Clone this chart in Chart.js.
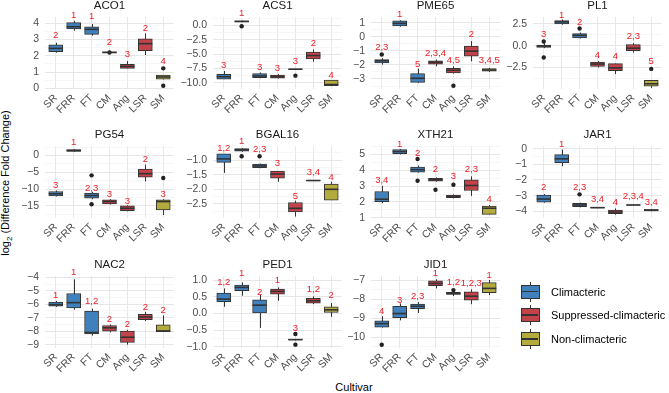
<!DOCTYPE html>
<html>
<head>
<meta charset="utf-8">
<title>Cultivar boxplots</title>
<script src="https://cdn.jsdelivr.net/npm/chart.js@4.4.1/dist/chart.umd.min.js"></script>
<style>
  html, body { margin: 0; padding: 0; background: #ffffff; }
  #figure { position: relative; width: 669px; height: 393px; overflow: hidden;
            font-family: "Liberation Sans", Arial, Helvetica, sans-serif; }
  #figure canvas { position: absolute; }
  .axis-title { position: absolute; color: #000; font-size: 11px; line-height: 14px;
                white-space: nowrap; text-align: center; }
  #ytitle { left: -144px; top: 175px; width: 300px; transform: rotate(-90deg); }
  #ytitle span { font-size: 8px; position: relative; top: 3px; }
  #xtitle { left: 304px; top: 380px; width: 100px; }
  .key { position: absolute; width: 19px; height: 24px; }
  .key .whisker { position: absolute; left: 9px; top: 2px; width: 1px; height: 20px; background: #333; }
  .key .box { position: absolute; left: 0; top: 5px; width: 17px; height: 12px;
              border: 1px solid #333; }
  .key .mid { position: absolute; left: 0; top: 5px; width: 17px; height: 1.5px; background: #333; }
  .key-label { position: absolute; font-size: 11px; line-height: 14px; color: #000; white-space: nowrap; }
</style>
</head>
<body>
<div id="figure">
  <div class="axis-title" id="ytitle">log<span>2</span> (Difference Fold Change)</div>
  <div class="axis-title" id="xtitle">Cultivar</div>
</div>
<script>
const cultivars = ["SR", "FRR", "FT", "CM", "Ang", "LSR", "SM"];
const cultivarGroup = [0, 0, 0, 1, 1, 1, 2];
const groupNames = ["Climacteric", "Suppressed-climacteric", "Non-climacteric"];
const groupColors = ["#3f80bd", "#c3434b", "#b3ab3e"];

// each box: [lower whisker, Q1, median, Q3, upper whisker]; outliers: [cultivar index, value]
const ACO1_box = [[2.19, 2.26, 2.46, 2.67, 2.81], [3.55, 3.65, 3.79, 4.04, 4.16], [3.24, 3.32, 3.63, 3.79, 3.96],
  [2.16, 2.18, 2.21, 2.25, 2.27], [1.23, 1.23, 1.35, 1.48, 1.68], [2.05, 2.32, 2.75, 3.04, 3.38], [0.55, 0.56, 0.70, 0.82, 0.82]];
const ACO1_out = [[3, 2.21], [6, 1.23], [6, 0.16]];
const ACO1_sig = ["2", "1", "1", "2", "3", "2", "4"];
const ACO1_sigY = [3.28, 4.51, 4.41, 2.81, 2.09, 3.69, 1.64];

const ACS1_box = [[-9.35, -9.35, -8.93, -8.51, -7.92], [0.6, 0.62, 0.72, 0.85, 0.89], [-9.2, -9.11, -8.81, -8.39, -8.2],
  [-9.25, -9.17, -8.93, -8.63, -8.45], [-7.7, -7.66, -7.62, -7.58, -7.55], [-6.31, -5.83, -5.24, -4.64, -4.17], [-10.48, -10.48, -10.3, -9.52, -9.52]];
const ACS1_out = [[1, -0.12], [4, -8.75]];
const ACS1_sig = ["3", "1", "3", "3", "3", "2", "4"];
const ACS1_sigY = [-7.02, 2.08, -7.32, -7.44, -6.25, -3.15, -8.63];

const PME65_box = [[-1.98, -1.86, -1.71, -1.62, -1.52], [0.71, 0.76, 0.95, 1.12, 1.17], [-3.29, -3.24, -2.95, -2.62, -2.26],
  [-2.1, -1.95, -1.81, -1.71, -1.62], [-2.62, -2.57, -2.38, -2.24, -2.1], [-1.74, -1.38, -1.02, -0.67, -0.31], [-2.5, -2.45, -2.36, -2.26, -2.21]];
const PME65_out = [[0, -1.26], [4, -3.48]];
const PME65_sig = ["2,3", "1", "5", "2,3,4", "4,5", "2", "3,4,5"];
const PME65_sigY = [-0.74, 1.6, -1.98, -1.21, -1.69, 0.17, -1.69];

const PL1_box = [[-0.28, -0.2, -0.04, 0.08, 0.28], [2.42, 2.5, 2.74, 2.9, 3.02], [0.83, 0.91, 1.19, 1.39, 1.51],
  [-2.5, -2.38, -2.1, -1.87, -1.75], [-3.25, -2.86, -2.54, -2.06, -2.06], [-0.79, -0.56, -0.28, 0.12, 0.32], [-4.84, -4.64, -4.37, -3.97, -3.97]];
const PL1_out = [[0, 0.48], [0, -1.35], [2, 1.98], [6, -2.66]];
const PL1_sig = ["3", "1", "2", "4", "4", "2,3", "5"];
const PL1_sigY = [1.31, 3.49, 2.7, -1.07, -1.27, 1.11, -1.79];

const PG54_box = [[-12.2, -12.0, -11.4, -10.7, -10.4], [1.1, 1.2, 1.5, 1.8, 1.9], [-13.0, -12.7, -11.9, -11.2, -10.8],
  [-14.6, -14.4, -13.7, -13.2, -13.0], [-16.6, -16.4, -15.7, -15.0, -14.8], [-7.7, -6.4, -5.4, -4.0, -2.7], [-17.7, -16.2, -13.7, -13.2, -13.0]];
const PG54_out = [[2, -5.9], [2, -14.5], [6, -6.7]];
const PG54_sig = ["3", "1", "2,3", "3", "3", "2", "3"];
const PG54_sigY = [-8.9, 3.8, -9.7, -11.7, -13.5, -1.2, -11.7];

const BGAL16_box = [[-1.44, -1.08, -0.96, -0.79, -0.79], [-0.72, -0.70, -0.65, -0.61, -0.60], [-1.28, -1.26, -1.2, -1.14, -1.12],
  [-1.74, -1.62, -1.48, -1.38, -1.38], [-2.93, -2.77, -2.65, -2.45, -2.39], [-1.71, -1.705, -1.7, -1.695, -1.69], [-2.37, -2.37, -2.0, -1.82, -1.74]];
const BGAL16_out = [[1, -0.87], [2, -0.87]];
const BGAL16_sig = ["1,2", "1", "2,3", "3", "5", "3,4", "4"];
const BGAL16_sigY = [-0.61, -0.37, -0.64, -1.12, -2.25, -1.42, -1.58];

const XTH21_box = [[1.91, 2.02, 2.17, 2.66, 3.02], [5.0, 5.06, 5.19, 5.32, 5.35], [3.85, 3.89, 4.04, 4.21, 4.3],
  [3.28, 3.32, 3.4, 3.49, 3.55], [2.22, 2.26, 2.34, 2.43, 2.47], [2.38, 2.72, 3.04, 3.4, 3.62], [1.21, 1.21, 1.6, 1.74, 1.8]];
const XTH21_out = [[2, 4.72], [2, 3.34], [3, 2.77], [4, 3.09]];
const XTH21_sig = ["3,4", "1", "2", "2", "3", "2,3", "4"];
const XTH21_sigY = [3.34, 5.64, 5.06, 4.04, 3.62, 4.04, 2.13];

const JAR1_box = [[-3.45, -3.42, -3.22, -2.97, -2.9], [-1.12, -0.9, -0.65, -0.38, -0.06], [-3.75, -3.7, -3.6, -3.5, -3.45],
  [-3.8, -3.79, -3.77, -3.75, -3.74], [-4.22, -4.15, -4.05, -3.92, -3.82], [-3.62, -3.61, -3.6, -3.59, -3.58], [-4.0, -3.98, -3.93, -3.87, -3.85]];
const JAR1_out = [[2, -2.92]];
const JAR1_sig = ["2", "1", "2,3", "3,4", "4", "2,3,4", "3,4"];
const JAR1_sigY = [-2.48, 0.25, -2.48, -3.27, -3.43, -3.06, -3.4];

const NAC2_box = [[-6.2, -6.15, -6.03, -5.83, -5.75], [-6.4, -6.28, -5.88, -5.2, -4.15], [-8.33, -8.2, -8.1, -6.5, -6.33],
  [-8.08, -8.0, -7.75, -7.58, -7.5], [-9.0, -8.83, -8.45, -8.0, -7.9], [-7.25, -7.15, -6.95, -6.75, -6.58], [-8.03, -8.03, -7.98, -7.53, -6.83]];
const NAC2_out = [];
const NAC2_sig = ["1", "1", "1,2", "2", "2", "2", "2"];
const NAC2_sigY = [-5.33, -3.65, -5.75, -7.13, -7.53, -6.2, -6.45];

const PED1_box = [[0.2, 0.35, 0.43, 0.61, 0.75], [0.53, 0.68, 0.78, 0.85, 0.93], [-0.43, 0.0, 0.25, 0.41, 0.55],
  [0.38, 0.58, 0.66, 0.73, 0.78], [-0.8, -0.79, -0.78, -0.77, -0.76], [0.28, 0.31, 0.38, 0.45, 0.51], [-0.1, 0.03, 0.11, 0.2, 0.31]];
const PED1_out = [[4, -0.61], [4, -0.93]];
const PED1_sig = ["1,2", "1", "2", "1", "3", "1,2", "2"];
const PED1_sigY = [0.93, 1.2, 0.63, 1.0, -0.43, 0.71, 0.53];

const JID1_box = [[-9.5, -9.47, -9.29, -9.15, -8.9], [-9.12, -8.98, -8.76, -8.38, -8.23], [-8.73, -8.5, -8.38, -8.27, -8.15],
  [-7.44, -7.3, -7.18, -7.05, -6.96], [-7.84, -7.76, -7.71, -7.65, -7.62], [-8.27, -8.06, -7.85, -7.62, -7.49], [-7.79, -7.67, -7.44, -7.14, -7.0]];
const JID1_out = [[0, -10.4], [4, -7.53]];
const JID1_sig = ["4", "3", "2,3", "1", "1,2", "1,2,3", "1"];
const JID1_sigY = [-8.64, -8.06, -7.88, -6.65, -7.14, -7.18, -6.74];

// y axis per panel: limits, major break step, decimals
const geneNames = ["ACO1", "ACS1", "PME65", "PL1", "PG54", "BGAL16", "XTH21", "JAR1", "NAC2", "PED1", "JID1"];
const yMin = [-0.04, -11.08, -3.71, -4.97, -18.6, -2.98, 0.98, -4.43, -9.25, -1.03, -10.57];
const yMax = [4.39, 1.5, 1.4, 3.3, 2.85, -0.52, 5.54, 0.17, -3.9, 1.12, -6.79];
const yBreak = [1, 2.5, 1, 2.5, 5, 0.5, 1, 1, 1, 0.5, 1];
const yDigits = [0, 1, 0, 1, 0, 1, 0, 0, 0, 1, 0];

const panels = [
  [ACO1_box, ACO1_out, ACO1_sig, ACO1_sigY], [ACS1_box, ACS1_out, ACS1_sig, ACS1_sigY],
  [PME65_box, PME65_out, PME65_sig, PME65_sigY], [PL1_box, PL1_out, PL1_sig, PL1_sigY],
  [PG54_box, PG54_out, PG54_sig, PG54_sigY], [BGAL16_box, BGAL16_out, BGAL16_sig, BGAL16_sigY],
  [XTH21_box, XTH21_out, XTH21_sig, XTH21_sigY], [JAR1_box, JAR1_out, JAR1_sig, JAR1_sigY],
  [NAC2_box, NAC2_out, NAC2_sig, NAC2_sigY], [PED1_box, PED1_out, PED1_sig, PED1_sigY],
  [JID1_box, JID1_out, JID1_sig, JID1_sigY]
];

// layout of the facet grid
const colLeft = [45, 213, 371, 533];
const rowTop = [17, 146, 276];
const PANEL_W = 129, PANEL_H = 72;
const AX_W = 42, TITLE_H = 22, XAX_H = 34, PAD_R = 4;
const FONT = '"Liberation Sans", Arial, Helvetica, sans-serif';

Chart.defaults.font.family = FONT;

function isMajor(v, step) {
  return Math.abs(v / step - Math.round(v / step)) < 1e-6;
}

function fmt(v, digits) {
  const s = Math.abs(v).toFixed(digits);
  return (v < -1e-9 ? "\u2212" : "") + s;
}

// whiskers behind the boxes, medians and letters on top
const boxExtras = {
  id: "boxExtras",
  beforeDatasetsDraw(chart, args, opts) {
    const { ctx, scales: { x, y } } = chart;
    ctx.save();
    ctx.strokeStyle = "#333333";
    ctx.lineWidth = 1;
    opts.stats.forEach((s, i) => {
      const px = Math.round(x.getPixelForValue(i)) + 0.5;
      ctx.beginPath();
      ctx.moveTo(px, y.getPixelForValue(s[0]));
      ctx.lineTo(px, y.getPixelForValue(s[4]));
      ctx.stroke();
    });
    ctx.restore();
  },
  afterDatasetsDraw(chart, args, opts) {
    const { ctx, scales: { x, y } } = chart;
    ctx.save();
    ctx.strokeStyle = "#333333";
    ctx.lineWidth = 1.6;
    opts.stats.forEach((s, i) => {
      const px = x.getPixelForValue(i);
      const py = y.getPixelForValue(s[2]);
      ctx.beginPath();
      ctx.moveTo(px - opts.half, py);
      ctx.lineTo(px + opts.half, py);
      ctx.stroke();
    });
    ctx.fillStyle = "#ea2028";
    ctx.font = "9.5px " + FONT;
    ctx.textAlign = "center";
    ctx.textBaseline = "middle";
    opts.sig.forEach((t, i) => {
      ctx.fillText(t, x.getPixelForValue(i), y.getPixelForValue(opts.sigY[i]));
    });
    ctx.restore();
  }
};

const figure = document.getElementById("figure");

panels.forEach(([stats, outliers, sig, sigY], k) => {
  const col = k % 4, row = Math.floor(k / 4);
  const canvas = document.createElement("canvas");
  const w = AX_W + PANEL_W + PAD_R;
  const h = TITLE_H + PANEL_H + XAX_H;
  canvas.width = w;
  canvas.height = h;
  canvas.style.width = w + "px";
  canvas.style.height = h + "px";
  canvas.style.left = (colLeft[col] - AX_W) + "px";
  canvas.style.top = (rowTop[row] - TITLE_H) + "px";
  figure.appendChild(canvas);

  const lo = yMin[k], hi = yMax[k], major = yBreak[k], minor = yBreak[k] / 2;

  new Chart(canvas, {
    type: "bar",
    data: {
      datasets: [
        {
          type: "scatter",
          label: "outliers",
          order: 0,
          data: outliers.map(([i, v]) => ({ x: i, y: v })),
          pointRadius: 2.2,
          pointBackgroundColor: "#222222",
          pointBorderWidth: 0,
          clip: false
        },
        {
          type: "bar",
          label: "boxes",
          order: 1,
          data: stats.map((s, i) => ({ x: i, y: [s[1], s[3]] })),
          backgroundColor: cultivarGroup.map(g => groupColors[g]),
          borderColor: "#333333",
          borderWidth: 1,
          borderSkipped: false,
          barThickness: 14
        }
      ]
    },
    options: {
      responsive: false,
      animation: false,
      events: [],
      layout: { padding: { top: 0, right: PAD_R, bottom: 0, left: 0 } },
      plugins: {
        legend: { display: false },
        tooltip: { enabled: false },
        title: {
          display: true,
          text: geneNames[k],
          fullSize: false,
          color: "#1a1a1a",
          font: { size: 11.5, weight: "normal" },
          padding: { top: 4, bottom: 4.2 }
        },
        boxExtras: { stats: stats, sig: sig, sigY: sigY, half: 7 }
      },
      scales: {
        x: {
          type: "linear",
          min: -0.6,
          max: 6.6,
          offset: false,
          afterBuildTicks: s => { s.ticks = cultivars.map((c, i) => ({ value: i })); },
          afterFit: s => { s.height = XAX_H; },
          grid: { offset: false, color: "#e8e8e8", lineWidth: 1, drawTicks: false },
          border: { display: false },
          ticks: {
            autoSkip: false,
            minRotation: 45,
            maxRotation: 45,
            padding: 3,
            color: "#4d4d4d",
            font: { size: 10.5 },
            callback: v => cultivars[v]
          }
        },
        y: {
          type: "linear",
          min: lo,
          max: hi,
          afterBuildTicks: s => {
            const t = [];
            for (let n = Math.ceil(lo / minor - 1e-9); n * minor <= hi + 1e-9; n++) t.push({ value: n * minor });
            s.ticks = t;
          },
          afterFit: s => { s.width = AX_W; },
          grid: {
            drawTicks: false,
            color: c => isMajor(c.tick.value, major) ? "#e6e6e6" : "#f0f0f0",
            lineWidth: c => isMajor(c.tick.value, major) ? 1 : 0.6
          },
          border: { display: false },
          ticks: {
            autoSkip: false,
            padding: 6,
            color: "#4d4d4d",
            font: { size: 10.5 },
            callback: v => isMajor(v, major) ? fmt(v, yDigits[k]) : ""
          }
        }
      }
    },
    plugins: [boxExtras]
  });
});

// legend in the empty facet slot
const legendCenters = [291.5, 315.2, 339.1];
groupNames.forEach((name, i) => {
  const key = document.createElement("div");
  key.className = "key";
  key.style.left = "521px";
  key.style.top = (legendCenters[i] - 12) + "px";
  key.innerHTML = '<div class="whisker"></div><div class="box" style="background:' + groupColors[i] +
    '"></div><div class="mid" style="top:' + 11.25 + 'px"></div>';
  figure.appendChild(key);
  const label = document.createElement("div");
  label.className = "key-label";
  label.style.left = "551px";
  label.style.top = (legendCenters[i] - 7) + "px";
  label.textContent = name;
  figure.appendChild(label);
});
</script>
</body>
</html>
